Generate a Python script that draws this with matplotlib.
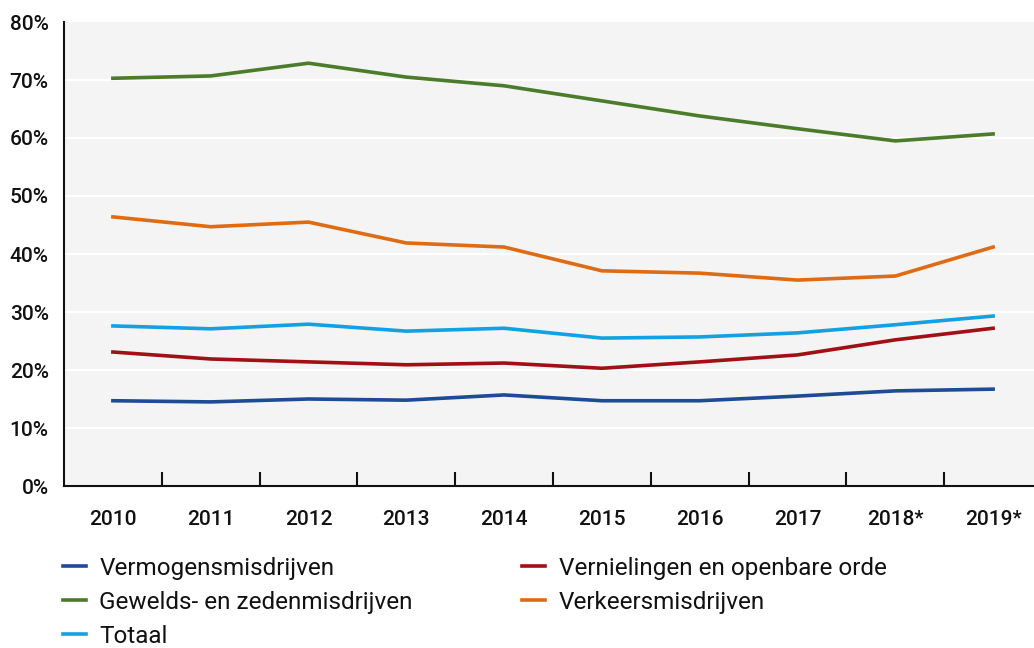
import numpy as np
import matplotlib
matplotlib.use("Agg")
from matplotlib import pyplot as plt
from matplotlib.ticker import FuncFormatter

plt.rcParams['font.family'] = ['Roboto', 'DejaVu Sans']

years = ['2010', '2011', '2012', '2013', '2014', '2015', '2016', '2017', '2018*', '2019*']

vermogen = [14.7, 14.5, 15.0, 14.8, 15.7, 14.7, 14.7, 15.5, 16.4, 16.7]
vernieling = [23.1, 21.9, 21.4, 20.9, 21.2, 20.3, 21.4, 22.6, 25.2, 27.2]
geweld = [70.3, 70.7, 72.9, 70.5, 69.0, 66.4, 63.8, 61.6, 59.5, 60.7]
verkeer = [46.4, 44.7, 45.5, 41.9, 41.2, 37.1, 36.7, 35.5, 36.2, 41.2]
totaal = [27.6, 27.1, 27.9, 26.7, 27.2, 25.5, 25.7, 26.4, 27.8, 29.3]

series = [
    ('Vermogensmisdrijven', vermogen, '#1d4b94'),
    ('Gewelds- en zedenmisdrijven', geweld, '#4b7b2b'),
    ('Totaal', totaal, '#12a1e2'),
    ('Vernielingen en openbare orde', vernieling, '#a11015'),
    ('Verkeersmisdrijven', verkeer, '#df6b12'),
]

fig = plt.figure(figsize=(10.34, 6.48), dpi=100)
ax = fig.add_axes([64/1034, (648-486)/648, 978/1034, 464/648])
ax.set_facecolor('#f4f4f4')

x = np.arange(len(years))
for label, vals, col in series:
    ax.plot(x, vals, color=col, linewidth=2.6, label=label, zorder=3)

ax.set_xlim(-0.5, len(years) - 0.5)
ax.set_ylim(0, 80)
ax.set_yticks(np.arange(0, 81, 10))
ax.yaxis.set_major_formatter(FuncFormatter(lambda v, p: f'{int(v)}%'))
ax.set_xticks(x)
ax.set_xticklabels(years)
ax.set_xticks(np.arange(0.5, len(years) - 1, 1), minor=True)
ax.tick_params(axis='x', which='major', length=0, pad=17, labelsize=15)
ax.tick_params(axis='x', which='minor', length=10, width=1.5, direction='in', color='#111111')
ax.tick_params(axis='y', length=0, pad=11, labelsize=15)
for t in ax.get_xticklabels() + ax.get_yticklabels():
    t.set_fontweight('medium')
    t.set_color('#111111')

for v in range(10, 80, 10):
    ax.axhline(v, color='white', linewidth=1.5, zorder=1)

for s in ['top', 'right']:
    ax.spines[s].set_visible(False)
for s in ['left', 'bottom']:
    ax.spines[s].set_linewidth(1.5)
    ax.spines[s].set_color('#111111')

leg = fig.legend(loc='upper left', bbox_to_anchor=(63/1034, 1 - 557/648), ncol=2,
                 frameon=False, fontsize=17.5, handlelength=0.95, handletextpad=0.55,
                 columnspacing=4.5, labelspacing=0.45, borderaxespad=0, borderpad=0)
for t in leg.get_texts():
    t.set_color('#111111')

fig.savefig('out.png', dpi=100)
